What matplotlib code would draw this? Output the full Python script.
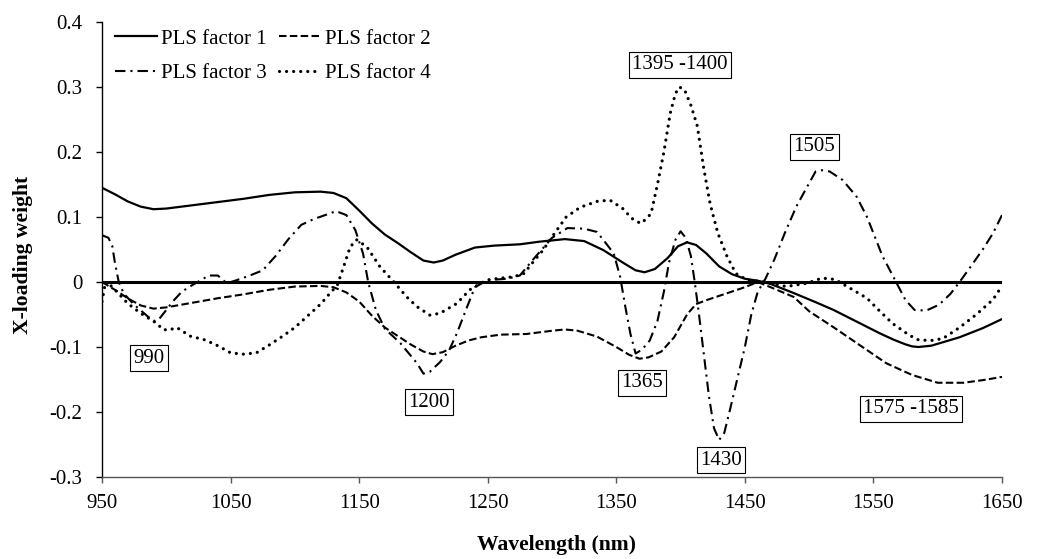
import matplotlib
matplotlib.use("Agg")
import matplotlib.pyplot as plt

# ---------------------------------------------------------------- data
# PLS X-loading weights against wavelength (nm)
f1_nm = [950, 960, 970, 980, 990, 1000, 1020, 1040, 1060, 1080, 1100, 1120,
         1130, 1140, 1150, 1160, 1170, 1180, 1190, 1200, 1208, 1215, 1225,
         1240, 1255, 1275, 1290, 1310, 1325, 1340, 1355, 1365, 1372, 1380,
         1390, 1398, 1405, 1412, 1420, 1430, 1440, 1450, 1460, 1470, 1488,
         1505, 1519, 1540, 1555, 1566, 1575, 1580, 1585, 1595, 1617, 1635,
         1650]
f1_val = [0.145, 0.135, 0.124, 0.116, 0.112, 0.113, 0.118, 0.123, 0.128,
          0.134, 0.138, 0.139, 0.137, 0.129, 0.110, 0.090, 0.073, 0.060,
          0.046, 0.033, 0.030, 0.033, 0.042, 0.053, 0.056, 0.058, 0.062,
          0.066, 0.063, 0.049, 0.030, 0.018, 0.015, 0.020, 0.037, 0.055,
          0.061, 0.057, 0.044, 0.024, 0.012, 0.005, 0.002, -0.003, -0.017,
          -0.031, -0.043, -0.064, -0.079, -0.089, -0.096, -0.099, -0.100,
          -0.098, -0.085, -0.071, -0.057]

f2_nm = [950, 960, 970, 980, 990, 1000, 1020, 1040, 1060, 1080, 1100, 1120,
         1130, 1140, 1150, 1160, 1170, 1180, 1190, 1200, 1207, 1215, 1225,
         1235, 1245, 1260, 1280, 1300, 1310, 1320, 1335, 1350, 1360, 1368,
         1375, 1385, 1395, 1405, 1412, 1420, 1435, 1450, 1460, 1470, 1488,
         1500, 1520, 1540, 1560, 1580, 1600, 1620, 1635, 1650]
f2_val = [0.000, -0.012, -0.025, -0.036, -0.041, -0.039, -0.032, -0.025,
          -0.019, -0.012, -0.007, -0.006, -0.008, -0.016, -0.030, -0.052,
          -0.070, -0.083, -0.096, -0.107, -0.111, -0.108, -0.098, -0.090,
          -0.085, -0.081, -0.080, -0.075, -0.073, -0.075, -0.084, -0.100,
          -0.112, -0.118, -0.116, -0.107, -0.085, -0.050, -0.034, -0.028,
          -0.018, -0.008, 0.000, -0.008, -0.023, -0.045, -0.071, -0.098,
          -0.125, -0.143, -0.155, -0.155, -0.151, -0.146]

f3_nm = [950, 955, 958, 960, 963, 967, 975, 985, 990, 994, 1000, 1005, 1012,
         1020, 1027, 1033, 1040, 1047, 1055, 1065, 1075, 1085, 1095, 1105,
         1115, 1125, 1132, 1140, 1147, 1153, 1157, 1163, 1170, 1182, 1195,
         1200, 1205, 1213, 1220, 1226, 1234, 1240, 1250, 1265, 1275, 1285,
         1300, 1312, 1325, 1335, 1341, 1348, 1353, 1357, 1361, 1365, 1370,
         1376, 1382, 1387, 1391, 1396, 1400, 1404, 1408, 1411, 1414, 1418,
         1422, 1426, 1430, 1434, 1438, 1444, 1450, 1455, 1460, 1466, 1473,
         1481, 1490, 1498, 1505, 1510, 1516, 1526, 1537, 1545, 1550, 1557,
         1566, 1575, 1582, 1591, 1601, 1610, 1617, 1625, 1635, 1643, 1650]
f3_val = [0.072, 0.068, 0.055, 0.030, 0.000, -0.018, -0.035, -0.052, -0.060,
          -0.058, -0.043, -0.030, -0.015, -0.005, 0.003, 0.010, 0.010,
          -0.002, 0.003, 0.010, 0.018, 0.040, 0.066, 0.088, 0.097, 0.104,
          0.109, 0.103, 0.080, 0.044, 0.000, -0.043, -0.072, -0.094, -0.125,
          -0.141, -0.138, -0.123, -0.105, -0.079, -0.038, -0.008, 0.003,
          0.005, 0.010, 0.034, 0.068, 0.083, 0.082, 0.077, 0.062, 0.044,
          0.008, -0.038, -0.080, -0.110, -0.104, -0.090, -0.060, -0.015,
          0.030, 0.065, 0.078, 0.068, 0.040, 0.000, -0.045, -0.110, -0.175,
          -0.225, -0.243, -0.232, -0.200, -0.150, -0.100, -0.050, -0.015,
          0.005, 0.035, 0.075, 0.116, 0.145, 0.170, 0.172, 0.170, 0.157,
          0.131, 0.100, 0.075, 0.040, 0.006, -0.028, -0.043, -0.044, -0.035,
          -0.018, 0.000, 0.022, 0.050, 0.075, 0.103]

f4_nm = [950, 952, 957, 963, 970, 980, 988, 993, 997, 1002, 1008, 1013,
         1018, 1030, 1040, 1050, 1060, 1070, 1080, 1090, 1100, 1110, 1120,
         1127, 1133, 1138, 1143, 1148, 1156, 1166, 1177, 1187, 1195, 1205,
         1213, 1226, 1236, 1249, 1260, 1270, 1278, 1285, 1293, 1302, 1311,
         1322, 1335, 1345, 1355, 1362, 1369, 1372, 1377, 1382, 1387, 1392,
         1396, 1399, 1403, 1408, 1413, 1418, 1423, 1429, 1436, 1443, 1452,
         1467, 1482, 1498, 1510, 1520, 1534, 1545, 1555, 1565, 1578, 1585,
         1595, 1604, 1617, 1630, 1643, 1650]
f4_val = [-0.030, -0.008, -0.006, -0.018, -0.033, -0.048, -0.058, -0.064,
          -0.073, -0.074, -0.070, -0.076, -0.083, -0.089, -0.098, -0.109,
          -0.111, -0.109, -0.097, -0.084, -0.070, -0.052, -0.034, -0.018,
          -0.005, 0.024, 0.054, 0.065, 0.054, 0.024, 0.000, -0.023, -0.038,
          -0.051, -0.048, -0.033, -0.012, 0.003, 0.006, 0.008, 0.013, 0.030,
          0.049, 0.075, 0.100, 0.115, 0.124, 0.126, 0.113, 0.098, 0.090,
          0.095, 0.105, 0.150, 0.200, 0.260, 0.290, 0.300, 0.296, 0.272,
          0.240, 0.175, 0.120, 0.075, 0.040, 0.013, 0.003, 0.000, -0.007,
          -0.002, 0.006, 0.004, -0.012, -0.025, -0.045, -0.064, -0.082,
          -0.089, -0.090, -0.087, -0.070, -0.050, -0.027, -0.006]

series_labels = ["PLS factor 1", "PLS factor 2", "PLS factor 3", "PLS factor 4"]
x_ticks = [950, 1050, 1150, 1250, 1350, 1450, 1550, 1650]
y_ticks = [-0.3, -0.2, -0.1, 0.0, 0.1, 0.2, 0.3, 0.4]
y_tick_labels = ["-0.3", "-0.2", "-0.1", "0", "0.1", "0.2", "0.3", "0.4"]
band_labels = ["1395 -1400", "1505", "990", "1200", "1365", "1430", "1575 -1585"]

# ---------------------------------------------------------------- layout
FS = 15.0
plt.rcParams["font.family"] = ["Liberation Serif", "DejaVu Serif"]
plt.rcParams["font.size"] = FS

fig = plt.figure(figsize=(10.39, 5.59), dpi=100)
ax = fig.add_axes([0.0982, 0.1467, 0.8662, 0.8139])

styles = [
    dict(linestyle="-", linewidth=1.6),
    dict(linestyle=(0, (3.6, 1.6)), linewidth=1.5),
    dict(linestyle=(0, (5.0, 2.4, 1.0, 2.4)), linewidth=1.5),
    dict(linestyle=(0, (0.01, 2.2)), linewidth=2.3, dash_capstyle="round"),
]
data = [(f1_nm, f1_val), (f2_nm, f2_val), (f3_nm, f3_val), (f4_nm, f4_val)]

ax.axhline(0, color="black", linewidth=2.2, zorder=1)
handles = []
for (xs, ys), lab, st in zip(data, series_labels, styles):
    ln, = ax.plot(xs, ys, color="black", label=lab, zorder=2, **st)
    handles.append(ln)

# boxed band labels (text, wavelength, loading position)
band_pos = [(1399.6, 0.334), (1504.0, 0.208), (986.6, -0.117),
            (1204.3, -0.185), (1370.0, -0.155), (1431.4, -0.274),
            (1579.0, -0.195)]
for txt, (bx, by) in zip(band_labels, band_pos):
    ax.text(bx, by, txt, ha="center", va="center", fontsize=FS, zorder=4,
            bbox=dict(boxstyle="square,pad=0.16", fc="white", ec="black",
                      lw=0.8))

ax.set_xlim(950, 1650)
ax.set_ylim(-0.3, 0.4)
ax.set_xticks(x_ticks)
ax.set_yticks(y_ticks)
ax.set_yticklabels(y_tick_labels)

for side in ("top", "right"):
    ax.spines[side].set_visible(False)
ax.spines["left"].set_linewidth(1.0)
ax.spines["bottom"].set_linewidth(1.0)
ax.spines["bottom"].set_color("#555555")
ax.tick_params(axis="x", direction="out", length=4, width=1.0,
               color="#555555", pad=8)
ax.tick_params(axis="y", direction="out", length=4, width=1.0, pad=10)

ax.set_xlabel("Wavelength (nm)", fontsize=15.6, fontweight="bold")
ax.set_ylabel("X-loading weight", fontsize=15.6, fontweight="bold")
ax.xaxis.set_label_coords(0.5055, -0.128)
ax.yaxis.set_label_coords(-0.077, 0.488)

# two columns filled row by row: factors 1 & 2 on top, 3 & 4 below
order = [0, 2, 1, 3]
ax.legend([handles[i] for i in order], [series_labels[i] for i in order],
          ncol=2, loc="upper left", frameon=False,
          bbox_to_anchor=(0.1107, 0.9480),
          bbox_transform=fig.transFigure, borderpad=0,
          borderaxespad=0, handlelength=2.0, handletextpad=0.2,
          columnspacing=0.6, labelspacing=0.7, fontsize=FS)

fig.savefig("out.png", dpi=100)
